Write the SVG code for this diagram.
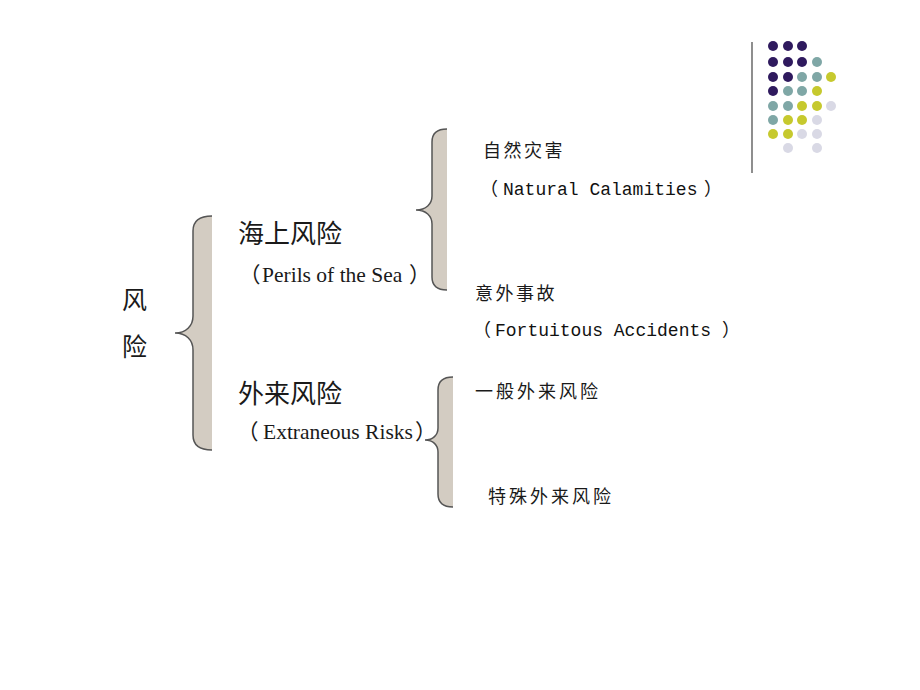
<svg xmlns="http://www.w3.org/2000/svg" width="920" height="690" viewBox="0 0 920 690">
<style>
.cjk{font-family:"Noto Sans CJK SC","Noto Sans CJK JP",sans-serif;fill:#1a1a1a;}
.big{font-size:25px;}
.ser{font-family:"Liberation Serif","Times New Roman","Noto Sans CJK SC",serif;font-size:21.5px;fill:#1a1a1a;}
.sm{font-size:18px;letter-spacing:2.5px;}
.mono{font-family:"Liberation Mono","Courier New","Noto Sans CJK SC",monospace;font-size:18px;fill:#111;}
.par{font-family:"Noto Sans CJK SC",sans-serif;}
.bf{fill:#d3ccc2;stroke:none;}
.bs{fill:none;stroke:#555;stroke-width:1.5;}
.p{fill:#2f1a5e;}.t{fill:#7fa7a6;}.y{fill:#c6c92e;}.l{fill:#d9d9e5;}
</style>
<rect width="920" height="690" fill="#fff"/>
<g id="decor">
<line x1="752" y1="42" x2="752" y2="173" stroke="#444" stroke-width="1.2"/>
<circle class="p" cx="773" cy="46" r="5"/><circle class="p" cx="788" cy="46" r="5"/><circle class="p" cx="802" cy="46" r="5"/>
<circle class="p" cx="773" cy="62" r="5"/><circle class="p" cx="788" cy="62" r="5"/><circle class="p" cx="802" cy="62" r="5"/><circle class="t" cx="817" cy="62" r="5"/>
<circle class="p" cx="773" cy="77" r="5"/><circle class="p" cx="788" cy="77" r="5"/><circle class="t" cx="802" cy="77" r="5"/><circle class="t" cx="817" cy="77" r="5"/><circle class="y" cx="831" cy="77" r="5"/>
<circle class="p" cx="773" cy="91" r="5"/><circle class="t" cx="788" cy="91" r="5"/><circle class="t" cx="802" cy="91" r="5"/><circle class="y" cx="817" cy="91" r="5"/>
<circle class="t" cx="773" cy="106" r="5"/><circle class="t" cx="788" cy="106" r="5"/><circle class="y" cx="802" cy="106" r="5"/><circle class="y" cx="817" cy="106" r="5"/><circle class="l" cx="831" cy="106" r="5"/>
<circle class="t" cx="773" cy="120" r="5"/><circle class="y" cx="788" cy="120" r="5"/><circle class="y" cx="802" cy="120" r="5"/><circle class="l" cx="817" cy="120" r="5"/>
<circle class="y" cx="773" cy="134" r="5"/><circle class="y" cx="788" cy="134" r="5"/><circle class="l" cx="802" cy="134" r="5"/><circle class="l" cx="817" cy="134" r="5"/>
<circle class="l" cx="788" cy="148" r="5"/><circle class="l" cx="817" cy="148" r="5"/>
</g>
<g id="connectors">
<path class="bf" d="M212,216 C200,216 193,220 193,231 L193,316 C193,326 186,333 175,333 C186,333 193,340 193,350 L193,435 C193,446 200,450 212,450 Z"/>
<path class="bs" d="M212,216 C200,216 193,220 193,231 L193,316 C193,326 186,333 175,333 C186,333 193,340 193,350 L193,435 C193,446 200,450 212,450"/>
<path class="bf" d="M447,129 C437,129 432,133 432,142 L432,196 C432,204 426,210 416,210 C426,210 432,216 432,224 L432,277 C432,286 437,290 447,290 Z"/>
<path class="bs" d="M447,129 C437,129 432,133 432,142 L432,196 C432,204 426,210 416,210 C426,210 432,216 432,224 L432,277 C432,286 437,290 447,290"/>
<path class="bf" d="M453,377 C443,377 438,381 438,390 L438,428 C438,435 433,440 425,440 C433,440 438,445 438,452 L438,494 C438,503 443,507 453,507 Z"/>
<path class="bs" d="M453,377 C443,377 438,381 438,390 L438,428 C438,435 433,440 425,440 C433,440 438,445 438,452 L438,494 C438,503 443,507 453,507"/>
</g>
<g id="root">
<text class="cjk big" x="122" y="309">风</text>
<text class="cjk big" x="122" y="356">险</text>
</g>
<g id="sea">
<text class="cjk" x="238" y="243" font-size="26">海上风险</text>
<text class="ser" y="282"><tspan x="239" class="par">（</tspan><tspan x="262">Perils of the Sea</tspan><tspan x="409" class="par">）</tspan></text>
</g>
<g id="extraneous">
<text class="cjk" x="238" y="403" font-size="26">外来风险</text>
<text class="ser" y="439"><tspan x="237" class="par">（</tspan><tspan x="263">Extraneous Risks</tspan><tspan x="415" class="par">）</tspan></text>
</g>
<g id="natural">
<text class="cjk sm" x="483" y="157">自然灾害</text>
<text class="mono" y="195"><tspan x="480" class="par">（</tspan><tspan x="503">Natural Calamities</tspan><tspan x="704" class="par">）</tspan></text>
</g>
<g id="accidents">
<text class="cjk sm" x="475" y="300">意外事故</text>
<text class="mono" y="336"><tspan x="473" class="par">（</tspan><tspan x="495">Fortuitous Accidents</tspan><tspan x="722" class="par">）</tspan></text>
</g>
<g id="general">
<text class="cjk sm" x="475" y="398" style="letter-spacing:3px">一般外来风险</text>
</g>
<g id="special">
<text class="cjk sm" x="488" y="503" style="letter-spacing:3px">特殊外来风险</text>
</g>
</svg>
